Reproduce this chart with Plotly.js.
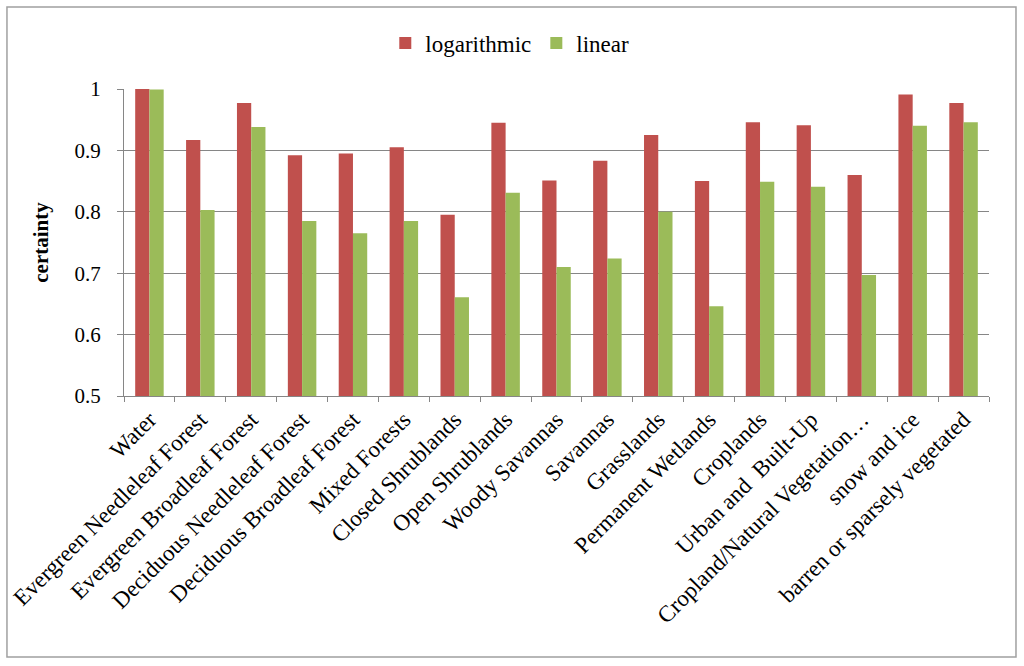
<!DOCTYPE html>
<html>
<head>
<meta charset="utf-8">
<script src="https://cdn.plot.ly/plotly-3.0.1.min.js"></script>
<style>html,body{margin:0;padding:0;background:#fff;}#chart{width:1024px;height:666px;}</style>
</head>
<body>
<div id="chart"></div>
<script>
const categories = ["Water", "Evergreen Needleleaf Forest", "Evergreen Broadleaf Forest", "Deciduous Needleleaf Forest", "Deciduous Broadleaf Forest", "Mixed Forests", "Closed Shrublands", "Open Shrublands", "Woody Savannas", "Savannas", "Grasslands", "Permanent Wetlands", "Croplands", "Urban and  Built-Up", "Cropland/Natural Vegetation…", "snow and ice", "barren or sparsely vegetated"];
const logarithmic = [1.0, 0.917, 0.977, 0.892, 0.895, 0.905, 0.795, 0.945, 0.851, 0.883, 0.925, 0.850, 0.946, 0.941, 0.860, 0.991, 0.977];
const linear = [0.999, 0.803, 0.938, 0.785, 0.765, 0.785, 0.661, 0.831, 0.710, 0.724, 0.800, 0.646, 0.849, 0.841, 0.697, 0.940, 0.946];
const yTicks = [0.5, 0.6, 0.7, 0.8, 0.9, 1];
const yTickText = ["0.5", "0.6", "0.7", "0.8", "0.9", "1"];

const font = "Liberation Serif";
const data = [
  {type: "bar", name: "logarithmic", x: categories, y: logarithmic, marker: {color: "#C0504D"}},
  {type: "bar", name: "linear", x: categories, y: linear, marker: {color: "#9BBB59"}}
];
const layout = {
  width: 1024, height: 666,
  margin: {l: 124, r: 35, t: 89, b: 270},
  paper_bgcolor: "#fff", plot_bgcolor: "#fff",
  font: {family: font, size: 20, color: "#000"},
  barmode: "group", bargap: 0.44, bargroupgap: 0,
  showlegend: true,
  legend: {orientation: "h", x: 0.446, xanchor: "center", y: 1.15, yanchor: "middle", font: {family: font, size: 23, color: "#000"}, itemwidth: 30},
  xaxis: {
    type: "category", tickangle: -45, tickfont: {family: font, size: 23, color: "#000"},
    showline: true, linecolor: "#868686", linewidth: 1,
    ticks: "outside", tickson: "boundaries", ticklen: 5, tickcolor: "#868686",
    showgrid: false, automargin: false
  },
  yaxis: {
    range: [0.5, 1], tickvals: yTicks, ticktext: yTickText,
    tickfont: {family: font, size: 21, color: "#000"}, ticklabelstandoff: 12,
    showline: true, linecolor: "#868686", linewidth: 1,
    ticks: "outside", ticklen: 6, tickcolor: "#868686",
    showgrid: true, gridcolor: "#868686", gridwidth: 1, zeroline: false,
    title: {text: "<b>certainty</b>", font: {family: font, size: 21, color: "#000"}, standoff: 20},
    automargin: false
  },
  shapes: [{type: "rect", xref: "paper", yref: "paper", x0: -0.1353, x1: 1.0312, y0: -0.850, y1: 1.2671, line: {color: "#A0A0A0", width: 1.5}, fillcolor: "rgba(0,0,0,0)", layer: "below"}]
};
Plotly.newPlot("chart", data, layout, {displayModeBar: false, staticPlot: true});
</script>
</body>
</html>
